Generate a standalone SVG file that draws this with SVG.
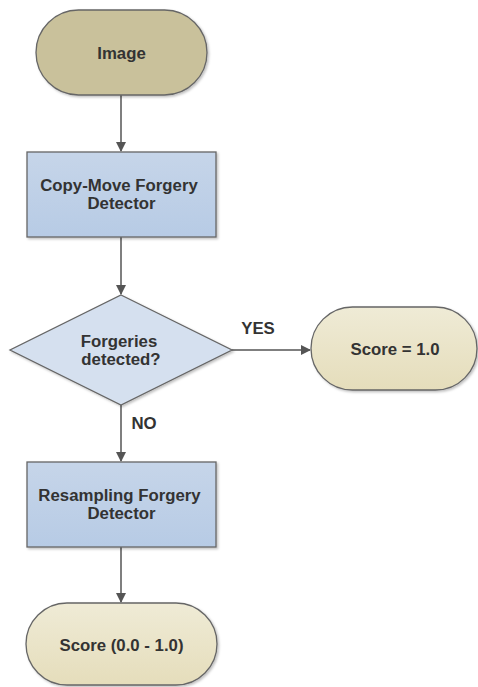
<svg xmlns="http://www.w3.org/2000/svg" width="478" height="687" viewBox="0 0 478 687">
<style>
.t{font-family:"Liberation Sans",Arial,sans-serif;font-weight:bold;font-size:16.8px;fill:#333;text-anchor:middle}
.e{stroke:#555;stroke-width:1.5;fill:none}
.n{stroke:#666;stroke-width:1.3}
</style>
<defs>
<linearGradient id="gl" x1="0" y1="0" x2="0" y2="1"><stop offset="0" stop-color="#efebd6"/><stop offset="1" stop-color="#e5ddbb"/></linearGradient>
<linearGradient id="gb" x1="0" y1="0" x2="0" y2="1"><stop offset="0" stop-color="#c6d5e9"/><stop offset="1" stop-color="#b7cbe5"/></linearGradient>
<filter id="sh" x="-10%" y="-10%" width="130%" height="130%"><feDropShadow dx="1.5" dy="1.5" stdDeviation="1.2" flood-color="#000" flood-opacity="0.25"/></filter>
<marker id="a" markerWidth="10" markerHeight="10" refX="9" refY="5" orient="auto" markerUnits="userSpaceOnUse"><path d="M0,0 L10,5 L0,10 Z" fill="#555"/></marker>
</defs>
<g id="connectors">
<line class="e" x1="121" y1="95" x2="121" y2="151" marker-end="url(#a)"/>
<line class="e" x1="121" y1="237" x2="121" y2="294" marker-end="url(#a)"/>
<line class="e" x1="232" y1="350" x2="310" y2="350" marker-end="url(#a)"/>
<line class="e" x1="121" y1="405" x2="121" y2="461" marker-end="url(#a)"/>
<line class="e" x1="121" y1="547" x2="121" y2="602" marker-end="url(#a)"/>
<text class="t" x="258" y="334" font-size="14">YES</text>
<text class="t" x="144" y="429" font-size="14">NO</text>
</g>
<g id="image">
<rect class="n" x="36" y="10" width="171" height="85" rx="42.5" fill="#c9c19b" filter="url(#sh)"/>
<text class="t" x="121.5" y="59" font-size="19.5">Image</text>
</g>
<g id="copymove">
<rect class="n" x="27" y="152" width="189" height="85" fill="url(#gb)" filter="url(#sh)"/>
<text class="t" x="119" y="191">Copy-Move Forgery</text>
<text class="t" x="121.5" y="209">Detector</text>
</g>
<g id="decision">
<polygon class="n" points="121,295 232,350 121,405 10,350" fill="#d5e0ef" filter="url(#sh)"/>
<text class="t" x="119" y="347">Forgeries</text>
<text class="t" x="121" y="365">detected?</text>
</g>
<g id="score1">
<rect class="n" x="311" y="307" width="166" height="83" rx="41.5" fill="url(#gl)" filter="url(#sh)"/>
<text class="t" x="395" y="355">Score = 1.0</text>
</g>
<g id="resampling">
<rect class="n" x="27" y="462" width="189" height="85" fill="url(#gb)" filter="url(#sh)"/>
<text class="t" x="119.5" y="501">Resampling Forgery</text>
<text class="t" x="121.5" y="519">Detector</text>
</g>
<g id="score2">
<rect class="n" x="26" y="603" width="191" height="82" rx="41" fill="url(#gl)" filter="url(#sh)"/>
<text class="t" x="121.5" y="651">Score (0.0 - 1.0)</text>
</g>
</svg>
